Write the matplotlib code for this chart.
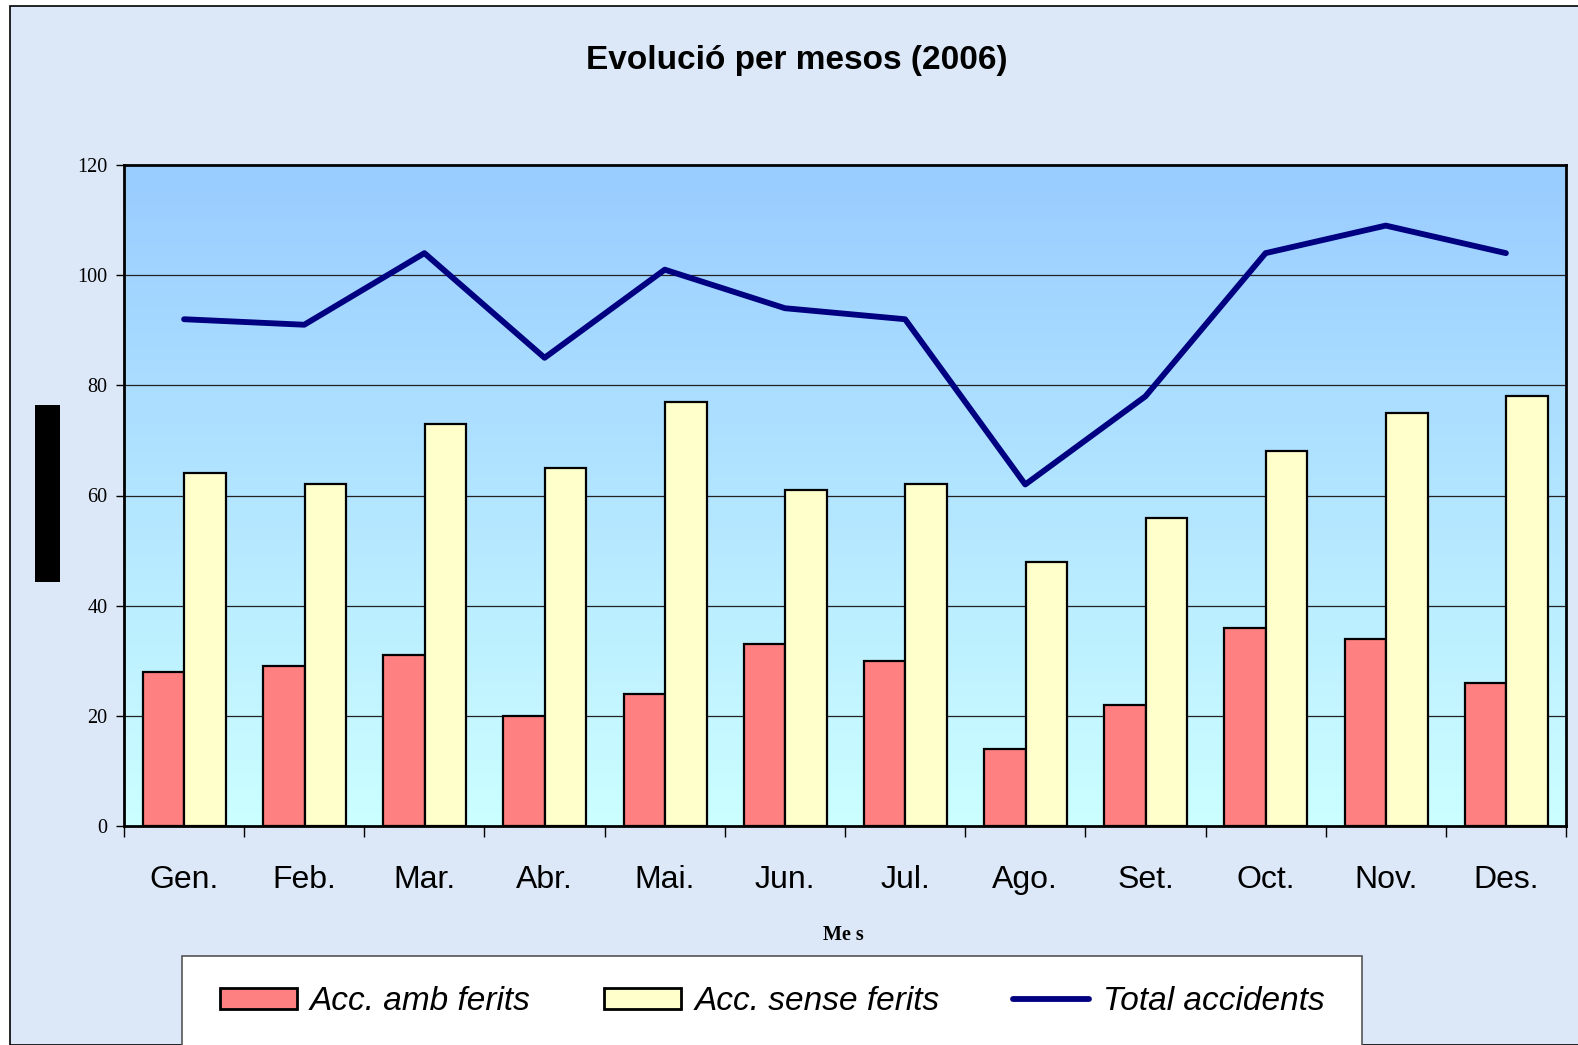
import numpy as np
import matplotlib
matplotlib.use("Agg")
import matplotlib.pyplot as plt
from matplotlib.patches import Rectangle
from matplotlib.lines import Line2D
from matplotlib.colors import LinearSegmentedColormap

months = ["Gen.", "Feb.", "Mar.", "Abr.", "Mai.", "Jun.", "Jul.", "Ago.", "Set.", "Oct.", "Nov.", "Des."]
amb_ferits = [28, 29, 31, 20, 24, 33, 30, 14, 22, 36, 34, 26]
sense_ferits = [64, 62, 73, 65, 77, 61, 62, 48, 56, 68, 75, 78]
total = [92, 91, 104, 85, 101, 94, 92, 62, 78, 104, 109, 104]
yticks = [0, 20, 40, 60, 80, 100, 120]

W, H = 1578, 1045
fig = plt.figure(figsize=(W / 100, H / 100), dpi=100, facecolor="white")

# outer frame
fig.patches.append(Rectangle((10 / W, 0), 1, 1 - 6 / H, transform=fig.transFigure,
                             facecolor="#dce8f8", edgecolor="black", lw=1.2, zorder=-5))

narrow = ["Liberation Sans Narrow", "Liberation Sans", "DejaVu Sans"]
serif = ["Liberation Serif", "DejaVu Serif"]

ax = fig.add_axes([124 / W, 1 - 826 / H, 1442 / W, 661 / H])
ax.set_zorder(1)
ax.set_xlim(-0.5, 11.5)
ax.set_ylim(0, 120)

grad = np.linspace(0, 1, 256).reshape(-1, 1)
cmap = LinearSegmentedColormap.from_list("bg", ["#ccffff", "#99ccff"])
ax.imshow(grad, aspect="auto", cmap=cmap, origin="lower",
          extent=(-0.5, 11.5, 0, 120), zorder=0)

x = np.arange(len(months))
bw = 0.345
ax.bar(x - 0.17, amb_ferits, width=bw, color="#ff8080", edgecolor="black", lw=1.6, zorder=3)
ax.bar(x + 0.175, sense_ferits, width=bw, color="#ffffcc", edgecolor="black", lw=1.6, zorder=3)
ax.plot(x, total, color="#000080", lw=4.2, solid_capstyle="round", zorder=4)

for y in yticks[1:-1]:
    ax.axhline(y, color="#222222", lw=0.9, zorder=1)

for s in ax.spines.values():
    s.set_linewidth(2)
    s.set_color("black")
    s.set_zorder(5)

ax.set_yticks(yticks)
ax.set_yticklabels([str(v) for v in yticks], family=serif, fontsize=14.5)
ax.tick_params(axis="y", direction="out", length=6, width=1, pad=6)
ax.set_xticks(x)
ax.set_xticklabels(months, family=narrow, fontsize=23)
ax.tick_params(axis="x", which="major", length=0, pad=28)
ax.set_xticks(np.arange(-0.5, 12, 1), minor=True)
ax.tick_params(axis="x", which="minor", direction="out", length=8, width=1)

fig.text(797 / W, 1 - 60 / H, "Evolució per mesos (2006)", ha="center", va="center",
         fontsize=24, fontweight="bold", family=["Liberation Sans", "DejaVu Sans"])
fig.text(843 / W, 1 - 935 / H, "Me s", ha="center", va="center",
         fontsize=14.5, fontweight="bold", family=serif)

# black block at left
fig.patches.append(Rectangle((35 / W, 1 - 582 / H), 25 / W, 177 / H, transform=fig.transFigure,
                             facecolor="black", edgecolor="none", zorder=2))

# legend box
fig.patches.append(Rectangle((182 / W, -0.01), 1180 / W, 0.01 + 1 - 956 / H, transform=fig.transFigure,
                             facecolor="white", edgecolor="#555555", lw=1.2, zorder=2))
handles = [Rectangle((0, 0), 1, 1, facecolor="#ff8080", edgecolor="black", lw=2),
           Rectangle((0, 0), 1, 1, facecolor="#ffffcc", edgecolor="black", lw=2),
           Line2D([0], [0], color="#000080", lw=4.2, solid_capstyle="round")]
labels = ["Acc. amb ferits", "Acc. sense ferits", "Total accidents"]
leg = fig.legend(handles, labels, loc="center left", bbox_to_anchor=(220 / W, 1 - 1002 / H),
                 ncol=3, frameon=False, prop={"family": narrow, "size": 24, "style": "italic"},
                 handlelength=2.3, handleheight=0.6, handletextpad=0.4, columnspacing=2.2,
                 borderpad=0, borderaxespad=0)
leg.set_zorder(5)

fig.savefig("out.png", dpi=100, facecolor="white")
